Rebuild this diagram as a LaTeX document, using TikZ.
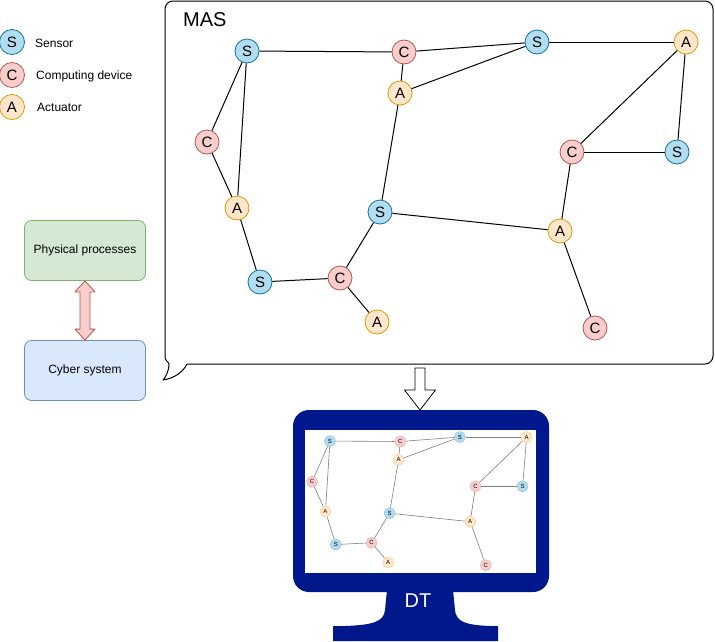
\documentclass[tikz,border=0pt]{standalone}
\usepackage{fontspec}
\setmainfont{Liberation Sans}
\usetikzlibrary{calc}
\definecolor{sfill}{HTML}{B1DDF0}\definecolor{sline}{HTML}{10739E}
\definecolor{cfill}{HTML}{F8CECC}\definecolor{cline}{HTML}{B85450}
\definecolor{afill}{HTML}{FFE6CC}\definecolor{aline}{HTML}{D79B00}
\definecolor{gfill}{HTML}{D5E8D4}\definecolor{gline}{HTML}{82B366}
\definecolor{bfill}{HTML}{DAE8FC}\definecolor{bline}{HTML}{6C8EBF}
\definecolor{navy}{RGB}{0,24,140}
\tikzset{
  agent/.style={circle,inner sep=0,minimum size=24,line width=0.8,font=\fontsize{15}{15}\selectfont},
  S node/.style={agent,draw=sline,fill=sfill},
  C node/.style={agent,draw=cline,fill=cfill},
  A node/.style={agent,draw=aline,fill=afill},
  dot/.style={circle,inner sep=0,minimum size=11,line width=0.4,font=\fontsize{6}{6}\selectfont},
  S dot/.style={dot,draw=sline!50,fill=sfill},
  C dot/.style={dot,draw=cline!50,fill=cfill},
  A dot/.style={dot,draw=aline!50,fill=afill},
  box/.style={rounded corners=7,minimum width=121,minimum height=60,line width=0.8,font=\fontsize{12}{14}\selectfont},
}
\begin{document}
\begin{tikzpicture}[x=1pt,y=-1pt,line join=round]
\useasboundingbox (0,0) rectangle (715,641);
% legende
\node[S node,minimum size=25] (ls) at (12,42) {S};
\node[C node,minimum size=25] (lc) at (12,75) {C};
\node[A node,minimum size=25] (la) at (12,107) {A};
\node[anchor=west,inner sep=0,font=\fontsize{12}{14}\selectfont] at (35,43) {Sensor};
\node[anchor=west,inner sep=0,font=\fontsize{12}{14}\selectfont] at (36,76) {Computing device};
\node[anchor=west,inner sep=0,font=\fontsize{12}{14}\selectfont] at (37,107) {Actuator};
% CPS
\node[box,draw=gline,fill=gfill] (phys) at (85,250.5) {Physical processes};
\node[box,draw=bline,fill=bfill] (cyber) at (85,370.5) {Cyber system};
\draw[draw=cline,fill=cfill,line width=0.8] (phys.south) -- ($(phys.south)+(10,11)$) -- ($(phys.south)+(5,11)$)
  -- ($(cyber.north)+(5,-11)$) -- ($(cyber.north)+(10,-11)$) -- (cyber.north) -- ($(cyber.north)+(-10,-11)$)
  -- ($(cyber.north)+(-5,-11)$) -- ($(phys.south)+(-5,11)$) -- ($(phys.south)+(-10,11)$) -- cycle;
% bulle MAS
\draw[line width=1] (187,364) {[rounded corners=8] -- (713,364) -- (713,1) -- (165,1)} -- (165,358)
  .. controls (166,362) and (170,362) .. (169,366) .. controls (168,372) and (166,377) .. (163,380)
  .. controls (175,378) and (183,372) .. (187,364);
\node[anchor=west,inner sep=0,font=\fontsize{20}{20}\selectfont] at (183,20) {MAS};
\foreach \n/\t/\x/\y in {s1/S/247/51, c1/C/404/52, s2/S/537/42, a1/A/686/42, c2/C/207/142, a2/A/400/93,
  c3/C/572/152, s3/S/677/152, a3/A/237/208, s4/S/380/212, a4/A/560/231, s5/S/260/282,
  c4/C/340/278, a5/A/377/322, c5/C/595/328}
  \node[\t\space node] (m\n) at (\x,\y) {\t};
\foreach \a/\b in {s1/c1, c1/s2, s2/a1, s1/c2, s1/a3, c2/a3, a3/s5, s5/c4, c4/a5, c4/s4, s4/a2, a2/c1,
  a2/s2, s4/a4, a4/c3, c3/a1, c3/s3, s3/a1, a4/c5}
  \draw[line width=1] (m\a) -- (m\b);
% fleche vers DT
\coordinate (callbot) at (420,368);
\coordinate (montop) at (420,410);
\draw[fill=white,line width=0.8] ($(callbot)+(-5,0)$) -- ($(callbot)+(5,0)$) -- ($(montop)+(5,-20)$)
  -- ($(montop)+(15.5,-20)$) -- (montop) -- ($(montop)+(-15.5,-20)$) -- ($(montop)+(-5,-20)$) -- cycle;
% ecran
\fill[navy,rounded corners=16] (293,410) rectangle (549,592);
\fill[white] (305,430) rectangle (536,573);
\fill[navy] (387,590) -- (385,610) .. controls (384,622) and (372,625) .. (345,626) -- (333,626) -- (333,641)
  -- (498,641) -- (498,626) -- (490,626) .. controls (466,625) and (456,622) .. (455,610) -- (453,590) -- cycle;
\node[text=white,font=\fontsize{20}{20}\selectfont] (dt) at (418,601) {DT};
\begin{scope}[shift={(219.3,418.2)},scale=0.448]
\foreach \n/\t/\x/\y in {s1/S/247/51, c1/C/404/52, s2/S/537/42, a1/A/686/42, c2/C/207/142, a2/A/400/93,
  c3/C/572/152, s3/S/677/152, a3/A/237/208, s4/S/380/212, a4/A/560/231, s5/S/260/282,
  c4/C/340/278, a5/A/377/322, c5/C/595/328}
  \node[\t\space dot] (d\n) at (\x,\y) {\t};
\foreach \a/\b in {s1/c1, c1/s2, s2/a1, s1/c2, s1/a3, c2/a3, a3/s5, s5/c4, c4/a5, c4/s4, s4/a2, a2/c1,
  a2/s2, s4/a4, a4/c3, c3/a1, c3/s3, s3/a1, a4/c5}
  \draw[gray,line width=0.6] (d\a) -- (d\b);
\end{scope}
\end{tikzpicture}
\end{document}
